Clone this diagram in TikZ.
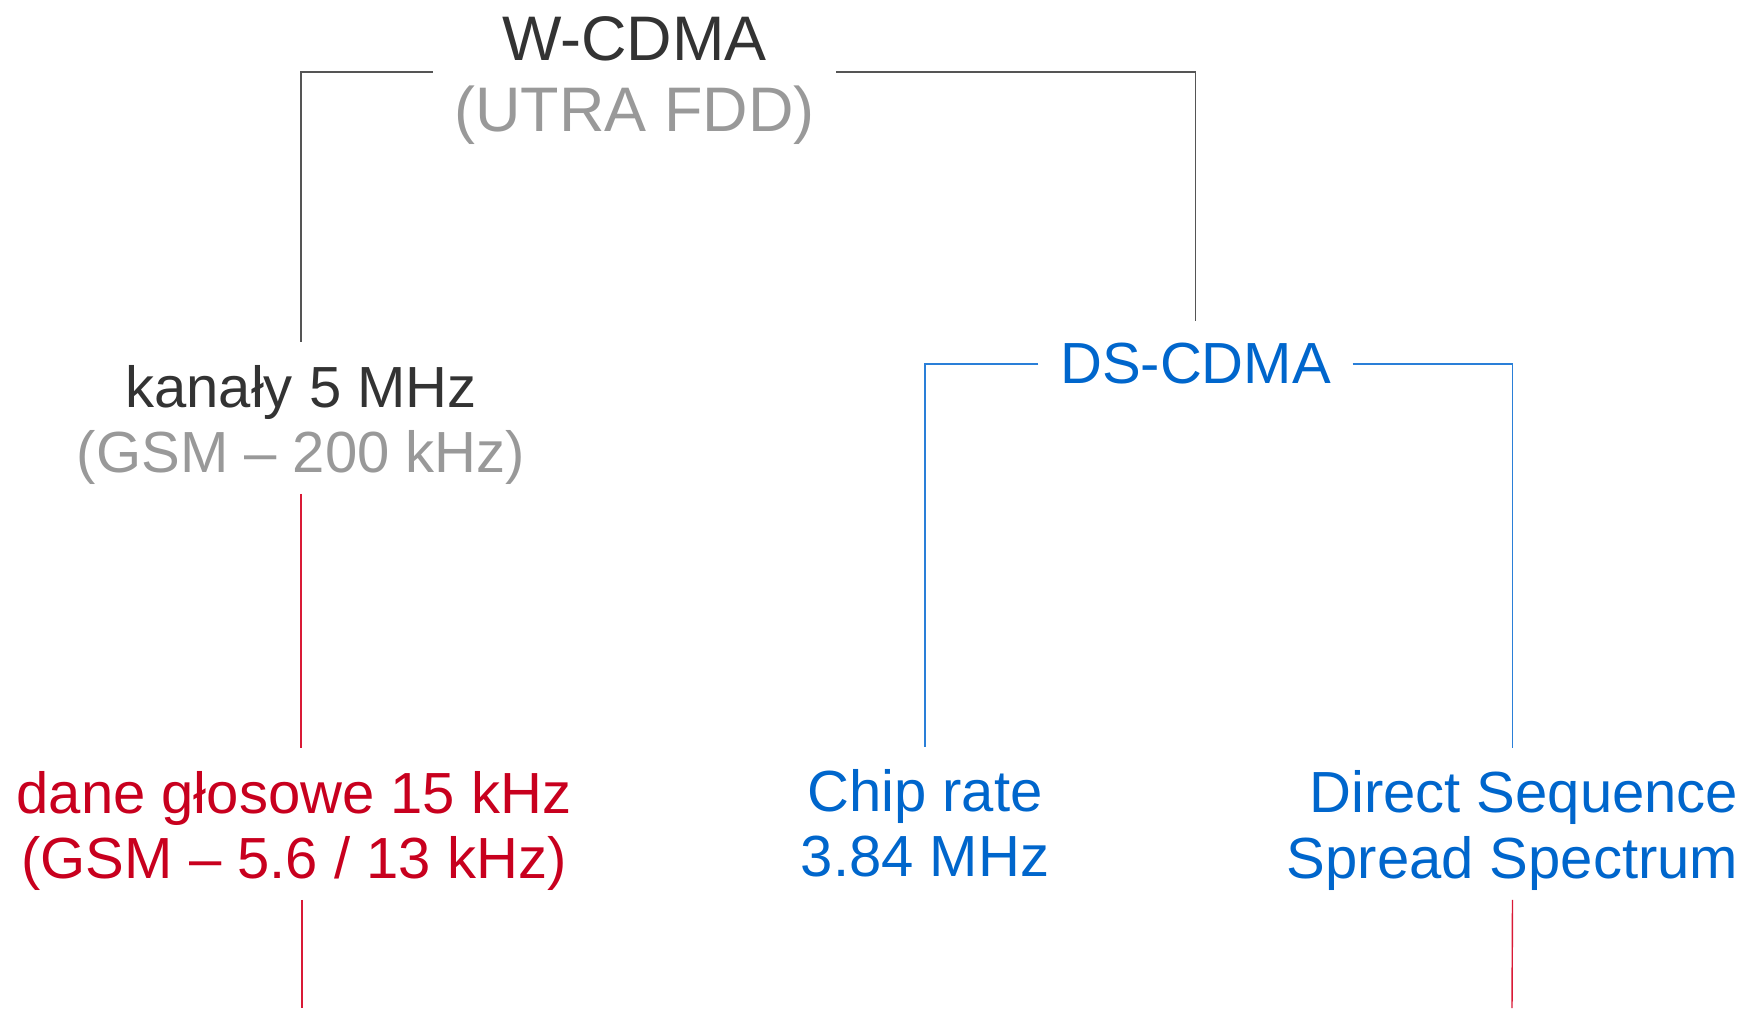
\documentclass[tikz,border=0pt]{standalone}
\usepackage{fontspec}
\setmainfont{Liberation Sans}
\usetikzlibrary{positioning}

\definecolor{darktext}{HTML}{333333}
\definecolor{graytext}{HTML}{999999}
\definecolor{bluetext}{HTML}{0066CC}
\definecolor{redtext}{HTML}{C8001E}
\definecolor{linegray}{HTML}{555555}
\definecolor{lineblue}{HTML}{2A7FD8}
\definecolor{linered}{HTML}{D91A36}

\tikzset{
  txt/.style={inner xsep=0.21cm, inner ysep=0.09cm, align=center, font=\fontsize{16.5}{18.5}\selectfont},
  bigtxt/.style={font=\fontsize{17.9}{20.2}\selectfont},
  grayline/.style={draw=linegray, line width=0.4pt},
  blueline/.style={draw=lineblue, line width=0.4pt},
  redline/.style={draw=linered, line width=0.4pt},
  tonode/.style={shorten >=0.13cm}
}

\begin{document}
\begin{tikzpicture}[x=0.01cm, y=-0.01cm]
    \useasboundingbox (0,0) rectangle (1754,1008);

    % Tree nodes
    \node[txt, bigtxt, text=darktext] (wcdma) at (634.5,81) {W-CDMA\\\textcolor{graytext}{(UTRA FDD)}};
    \node[txt, text=darktext] (kanaly) at (301,424.5) {kanały 5 MHz\\\textcolor{graytext}{(GSM – 200 kHz)}};
    \node[txt, text=bluetext] (dscdma) at (1195.5,364) {DS-CDMA};
    \node[txt, text=redtext] (dane) at (294,830.5) {dane głosowe 15 kHz\\(GSM – 5.6 / 13 kHz)};
    \node[txt, text=bluetext] (chip) at (925,823.5) {Chip rate\\3.84 MHz};
    \node[txt, text=bluetext, align=right] (dsss) at (1512.5,830.5) {Direct Sequence\\Spread Spectrum};

    % Branches from the top
    \draw[grayline, tonode] ([yshift=0.09cm]wcdma.west) -| (kanaly.north);
    \draw[grayline, tonode] ([yshift=0.09cm]wcdma.east) -| (dscdma.north);

    % Branches of DS-CDMA
    \draw[blueline, tonode] (dscdma.west) -| (chip.north);
    \draw[blueline, tonode] (dscdma.east) -| (dsss.north);

    % Red links
    \draw[redline, tonode] (kanaly.south) -- (kanaly.south |- dane.north);
    \coordinate (endl) at (302,1008);
    \coordinate (endr) at (1512,1008);
    \draw[redline] (endl |- dane.south) -- (endl);
    \draw[redline] (dsss.south) -- (endr);
\end{tikzpicture}
\end{document}
